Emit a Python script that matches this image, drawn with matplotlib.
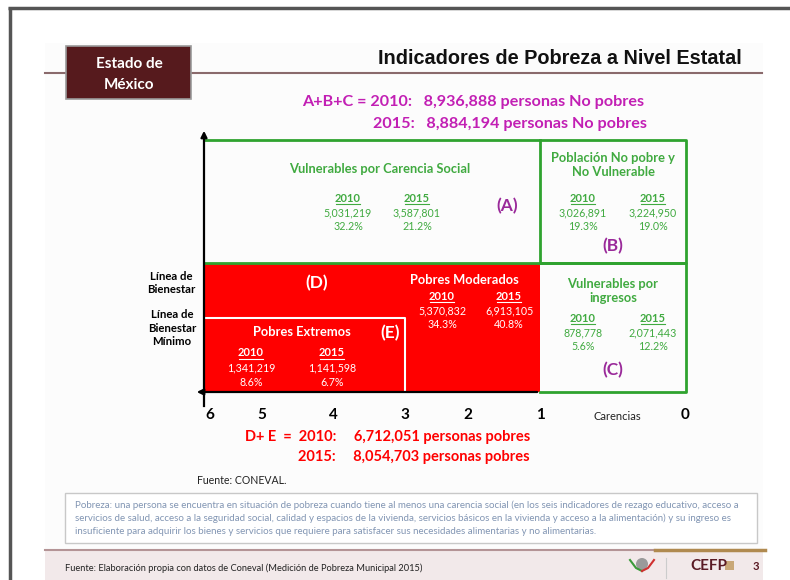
import matplotlib
matplotlib.use("Agg")
import matplotlib.pyplot as plt
from matplotlib.patches import Rectangle

plt.rcParams['font.family'] = ['Lato', 'DejaVu Sans']

# ---------------- data ----------------
years = ["2010", "2015"]
no_pobres_tot = ["8,936,888", "8,884,194"]      # A+B+C
pobres_tot = ["6,712,051", "8,054,703"]         # D+E
carencias = ["6", "5", "4", "3", "2", "1", "Carencias", "0"]

vuln_social = ["5,031,219", "3,587,801"]
vuln_social_pct = ["32.2%", "21.2%"]
no_pobre_no_vuln = ["3,026,891", "3,224,950"]
no_pobre_no_vuln_pct = ["19.3%", "19.0%"]
vuln_ingresos = ["878,778", "2,071,443"]
vuln_ingresos_pct = ["5.6%", "12.2%"]
pobres_mod = ["5,370,832", "6,913,105"]
pobres_mod_pct = ["34.3%", "40.8%"]
pobres_ext = ["1,341,219", "1,141,598"]
pobres_ext_pct = ["8.6%", "6.7%"]

definicion = [
    "Pobreza: una persona se encuentra en situación de pobreza cuando tiene al menos una carencia social (en los seis indicadores de rezago educativo, acceso a",
    "servicios de salud, acceso a la seguridad social, calidad y espacios de la vivienda, servicios básicos en la vivienda y acceso a la alimentación) y su ingreso es",
    "insuficiente para adquirir los bienes y servicios que requiere para satisfacer sus necesidades alimentarias y no alimentarias.",
]

# ---------------- style ----------------
GREEN = "#2fa32f"
GREEN_TXT = "#40aa40"
RED = "#ff0000"
MAGENTA = "#c21fb4"
PURPLE = "#9a2a9a"
MAROON = "#561a1d"
HEAD = 9.3     # box titles
NUM = 7.7      # numbers in boxes
LBL = 12.5     # (A) ... (E)

fig = plt.figure(figsize=(7.9, 5.8), dpi=100)
ax = fig.add_axes([0, 0, 1, 1])
ax.set_xlim(0, 790)
ax.set_ylim(580, 0)
ax.axis("off")

# page frame and slide background
ax.add_patch(Rectangle((45, 43), 718, 537, fc="#fcfcfc", ec="none"))
ax.plot([8, 790], [7.5, 7.5], color="#555555", lw=2.5, solid_capstyle="butt")
ax.plot([9.5, 9.5], [7, 580], color="#555555", lw=2.5, solid_capstyle="butt")

# header
ax.add_patch(Rectangle((66, 46), 125, 53, fc=MAROON, ec="#9a9a9a", lw=1.2, zorder=3))
ax.text(129, 64, "Estado de", color="white", fontsize=11, fontweight="bold",
        ha="center", va="center", zorder=4)
ax.text(129, 85, "México", color="white", fontsize=11, fontweight="bold",
        ha="center", va="center", zorder=4)
ax.plot([45, 762], [73, 73], color="#8a6a6c", lw=1.5)
ax.text(742, 59, "Indicadores de Pobreza a Nivel Estatal", family="Liberation Sans",
        fontsize=14.3, fontweight="bold", ha="right", va="center", color="#111111")

ax.text(302, 102, "A+B+C = %s:   %s personas No pobres" % (years[0], no_pobres_tot[0]),
        color=MAGENTA, fontsize=11.6, fontweight="bold", ha="left", va="center")
ax.text(647, 124, "%s:   %s personas No pobres" % (years[1], no_pobres_tot[1]),
        color=MAGENTA, fontsize=11.6, fontweight="bold", ha="right", va="center")

# ---------------- diagram ----------------
x0, x1, x3, xr = 204, 540, 405, 686
ytop, ymid, yext, ybot = 140, 263, 318, 392

ax.add_patch(Rectangle((x0, ymid), x1 - x0, ybot - ymid, fc=RED, ec="none", zorder=1))
ax.plot([x0, x3, x3], [yext, yext, ybot], color="white", lw=1.5, zorder=2)
ax.plot([x0, xr, xr, x0], [ytop, ytop, ymid, ymid], color=GREEN, lw=2, zorder=2)
ax.plot([x1, x1], [ytop, ymid], color=GREEN, lw=2, zorder=2)
ax.plot([x1, xr, xr, x1], [ymid, ymid, ybot, ybot], color=GREEN, lw=2, zorder=2)

# axes arrows
ax.annotate("", xy=(x0, 128), xytext=(x0, ybot + 2),
            arrowprops=dict(arrowstyle="-|>", color="black", lw=1.6, mutation_scale=9), zorder=5)
ax.annotate("", xy=(194, ybot), xytext=(x1, ybot),
            arrowprops=dict(arrowstyle="-|>", color="black", lw=1.6, mutation_scale=9), zorder=5)
ax.plot([x0, x0], [ybot, 406], color="black", lw=1.6, zorder=5)

tick_x = [210, 262, 333, 405, 468, 540, 617, 685]
for tx, lab in zip(tick_x, carencias):
    if lab == "Carencias":
        ax.text(tx, 417, lab, fontsize=8, ha="center", va="center", color="#222222")
    else:
        ax.text(tx, 415, lab, fontsize=11, fontweight="bold", ha="center", va="center")

ax.text(171, 283, "Línea de\nBienestar", fontsize=8.2, fontweight="bold", ha="center",
        va="center", linespacing=1.3)
ax.text(172, 328, "Línea de\nBienestar\nMínimo", fontsize=8.2, fontweight="bold", ha="center",
        va="center", linespacing=1.3)


def year_block(xs, y, vals, pcts, color):
    for xx, yr, v, p in zip(xs, years, vals, pcts):
        ax.text(xx, y, yr, fontsize=8, fontweight="bold", ha="center", va="center",
                color=color, zorder=6)
        ax.plot([xx - 12, xx + 12], [y + 6, y + 6], color=color, lw=0.8, zorder=6)
        ax.text(xx, y + 14.5, v, fontsize=NUM, ha="center", va="center", color=color, zorder=6)
        ax.text(xx, y + 29, p, fontsize=NUM, ha="center", va="center", color=color, zorder=6)


# A
ax.text(380, 169, "Vulnerables por Carencia Social", fontsize=HEAD, fontweight="bold",
        ha="center", va="center", color=GREEN_TXT)
year_block([348, 417], 198, vuln_social, vuln_social_pct, GREEN_TXT)
ax.text(507, 206, "(A)", fontsize=LBL, fontweight="bold", ha="center", va="center", color=PURPLE)

# B
ax.text(613, 165, "Población No pobre y\nNo Vulnerable", fontsize=HEAD, fontweight="bold",
        ha="center", va="center", color=GREEN_TXT, linespacing=1.25)
year_block([583, 653], 198, no_pobre_no_vuln, no_pobre_no_vuln_pct, GREEN_TXT)
ax.text(613, 246, "(B)", fontsize=LBL, fontweight="bold", ha="center", va="center", color=PURPLE)

# C
ax.text(613, 291, "Vulnerables por\ningresos", fontsize=HEAD, fontweight="bold",
        ha="center", va="center", color=GREEN_TXT, linespacing=1.25)
year_block([583, 653], 318, vuln_ingresos, vuln_ingresos_pct, GREEN_TXT)
ax.text(613, 370, "(C)", fontsize=LBL, fontweight="bold", ha="center", va="center", color=PURPLE)

# D
ax.text(317, 283, "(D)", fontsize=LBL, fontweight="bold", ha="center", va="center", color="white")
ax.text(464, 280, "Pobres Moderados", fontsize=HEAD, fontweight="bold", ha="center",
        va="center", color="white")
year_block([442, 509], 296, pobres_mod, pobres_mod_pct, "white")

# E
ax.text(302, 332, "Pobres Extremos", fontsize=HEAD, fontweight="bold", ha="center",
        va="center", color="white")
ax.text(390, 333, "(E)", fontsize=LBL, fontweight="bold", ha="center", va="center", color="white")
year_block([251, 332], 353, pobres_ext, pobres_ext_pct, "white")

# totals poor
ax.text(245, 437, "D+ E  =  %s:     %s personas pobres" % (years[0], pobres_tot[0]),
        color=RED, fontsize=10.5, fontweight="bold", ha="left", va="center")
ax.text(530, 457, "%s:     %s personas pobres" % (years[1], pobres_tot[1]),
        color=RED, fontsize=10.5, fontweight="bold", ha="right", va="center")

ax.text(197, 480, "Fuente: CONEVAL.", fontsize=7.6, ha="left", va="center", color="#222222")

# definition box
ax.add_patch(Rectangle((65, 493), 692, 50, fc="white", ec="#c8c8c8", lw=1))
for i, line in enumerate(definicion):
    ax.text(75, 505 + i * 13.5, line, fontsize=7.0, ha="left", va="center", color="#8195b3")

# footer
ax.add_patch(Rectangle((45, 549), 718, 31, fc="#f2e9ea", ec="none"))
ax.plot([45, 655], [549.5, 549.5], color="#b49496", lw=1.5)
ax.plot([655, 765], [549.5, 549.5], color="#b08a50", lw=2.5)
ax.text(65, 568, "Fuente: Elaboración propia con datos de Coneval (Medición de Pobreza Municipal 2015)",
        fontsize=6.7, ha="left", va="center", color="#222222")
ax.add_patch(plt.Circle((642, 564), 6, fc="#9a9a9a", ec="none"))
ax.plot([630, 636, 642], [560, 568, 571], color="#3a9a3a", lw=1.5)
ax.plot([642, 648, 654], [571, 568, 560], color="#d03030", lw=1.5)
ax.plot([666, 666], [558, 578], color="#cccccc", lw=0.8)
ax.text(690, 566, "CEFP", fontsize=11, fontweight="bold", ha="left", va="center", color="#5a1a24")
ax.add_patch(Rectangle((725, 561), 9, 9, fc="#c9a878", ec="none"))
ax.text(756, 566, "3", fontsize=8, fontweight="bold", ha="center", va="center", color="#5a1a24")

fig.savefig("out.png", dpi=100)
